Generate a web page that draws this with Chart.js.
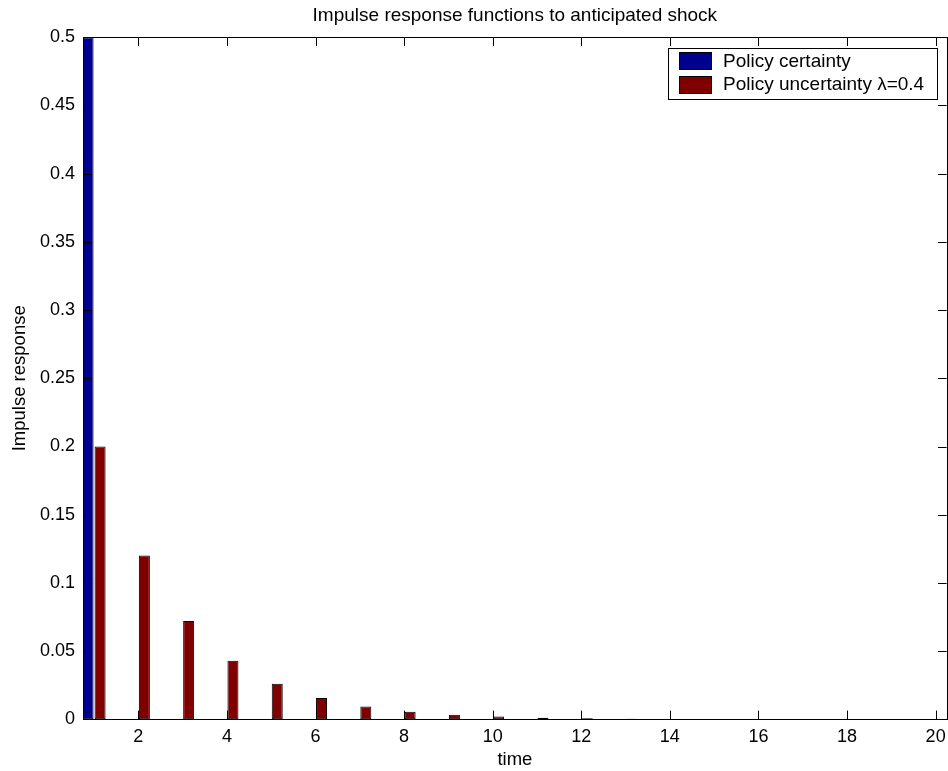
<!DOCTYPE html>
<html>
<head>
<meta charset="utf-8">
<script src="https://cdn.jsdelivr.net/npm/chart.js@4/dist/chart.umd.min.js"></script>
<style>
  html, body { margin: 0; padding: 0; background: #ffffff; }
  canvas { display: block; }
</style>
</head>
<body>
<canvas id="c" width="948" height="771"></canvas>
<script>
// ---- data ----
const times = [1, 2, 3, 4, 5, 6, 7, 8, 9, 10, 11, 12, 13, 14, 15, 16, 17, 18, 19, 20];
const policyCertainty = [0.5, 0, 0, 0, 0, 0, 0, 0, 0, 0, 0, 0, 0, 0, 0, 0, 0, 0, 0, 0];
const policyUncertainty = [0.2, 0.12, 0.072, 0.043, 0.026, 0.0156, 0.0093, 0.0056, 0.0034, 0.002,
                           0.0012, 0.0007, 0.0004, 0.0003, 0.0002, 0.0001, 0.00006, 0.00004, 0.00002, 0.00001];
const seriesLabels = ['Policy certainty', 'Policy uncertainty \u03BB=0.4'];
const seriesColors = ['#00008f', '#800000'];
const xTicks = [2, 4, 6, 8, 10, 12, 14, 16, 18, 20];
const yTicks = [0, 0.05, 0.1, 0.15, 0.2, 0.25, 0.3, 0.35, 0.4, 0.45, 0.5];
const titleText = 'Impulse response functions to anticipated shock';
const xTitle = 'time';
const yTitle = 'Impulse response';

const FONT = '"Liberation Sans", Arial, Helvetica, sans-serif';

function toPoints(vals) { return times.map((t, i) => ({ x: t, y: vals[i] })); }

// inward ticks + box, MATLAB style
const axesBox = {
  id: 'axesBox',
  afterDatasetsDraw(chart) {
    const { ctx, chartArea: a, scales } = chart;
    const xs = scales.x, ys = scales.y;
    const L = 8.7;
    ctx.save();
    ctx.strokeStyle = '#000';
    ctx.lineWidth = 1;
    ctx.beginPath();
    xTicks.forEach(v => {
      const px = Math.round(xs.getPixelForValue(v)) + 0.5;
      ctx.moveTo(px, a.bottom); ctx.lineTo(px, a.bottom - L);
      ctx.moveTo(px, a.top); ctx.lineTo(px, a.top + L);
    });
    yTicks.forEach(v => {
      const py = Math.round(ys.getPixelForValue(v)) + 0.5;
      ctx.moveTo(a.left, py); ctx.lineTo(a.left + L, py);
      ctx.moveTo(a.right, py); ctx.lineTo(a.right - L, py);
    });
    ctx.stroke();
    ctx.strokeRect(Math.round(a.left) + 0.5, Math.round(a.top) + 0.5,
                   Math.round(a.right - a.left), Math.round(a.bottom - a.top));
    ctx.restore();
  }
};

// legend box inside plot (top-right)
const innerLegend = {
  id: 'innerLegend',
  afterDraw(chart) {
    const { ctx, chartArea: a } = chart;
    const w = 269.4, h = 51.3;
    const bx = a.right - 9 - w, by = a.top + 10.4;
    ctx.save();
    ctx.fillStyle = '#fff';
    ctx.fillRect(bx, by, w, h);
    ctx.strokeStyle = '#000';
    ctx.lineWidth = 1;
    ctx.strokeRect(Math.round(bx) + 0.5, Math.round(by) + 0.5, Math.round(w), Math.round(h));
    ctx.font = '19px ' + FONT;
    ctx.textBaseline = 'middle';
    ctx.textAlign = 'left';
    chart.data.datasets.forEach((ds, i) => {
      const sy = by + 4.6 + i * 23.7;
      ctx.fillStyle = ds.backgroundColor;
      ctx.fillRect(bx + 10.7, sy, 32.7, 17.5);
      ctx.strokeStyle = '#000';
      ctx.strokeRect(Math.round(bx + 10.7) + 0.5, Math.round(sy) + 0.5, 32, 17);
      ctx.fillStyle = '#000';
      ctx.fillText(ds.label, bx + 54.7, sy + 9);
    });
    ctx.restore();
  }
};

new Chart(document.getElementById('c'), {
  type: 'bar',
  data: {
    datasets: [
      { label: seriesLabels[0], data: toPoints(policyCertainty), backgroundColor: seriesColors[0],
        borderColor: '#000', borderWidth: 1, borderSkipped: false },
      { label: seriesLabels[1], data: toPoints(policyUncertainty), backgroundColor: seriesColors[1],
        borderColor: '#000', borderWidth: 1, borderSkipped: false }
    ]
  },
  options: {
    responsive: false,
    animation: false,
    devicePixelRatio: 1,
    layout: { padding: { left: 0, right: 1.3, top: 0, bottom: 0 } },
    datasets: { bar: { categoryPercentage: 0.5418, barPercentage: 0.9167 } },
    plugins: {
      legend: { display: false },
      tooltip: { enabled: false },
      title: {
        display: true, text: titleText, fullSize: false, color: '#000',
        font: { family: FONT, size: 19, weight: 'normal' },
        padding: { top: 4.8, bottom: 9.7 }
      }
    },
    scales: {
      x: {
        type: 'linear', min: 0.75, max: 20.25, offset: false,
        afterBuildTicks: s => { s.ticks = xTicks.map(v => ({ value: v })); },
        afterFit: s => { s.height = 51.7; s.paddingLeft = 0; s.paddingRight = 0; },
        grid: { display: false, drawTicks: false },
        border: { display: false },
        ticks: { padding: 7, color: '#000', font: { family: FONT, size: 18 }, maxRotation: 0,
                 autoSkip: false, callback: v => String(v) },
        title: { display: true, text: xTitle, color: '#000', font: { family: FONT, size: 18.5 },
                 padding: { top: 0, bottom: 0 } }
      },
      y: {
        type: 'linear', min: 0, max: 0.5,
        afterBuildTicks: s => { s.ticks = yTicks.map(v => ({ value: v })); },
        afterFit: s => { s.width = 83; },
        grid: { display: false, drawTicks: false },
        border: { display: false },
        ticks: { padding: 8, color: '#000', font: { family: FONT, size: 18 }, autoSkip: false,
                 callback: v => String(v) },
        title: { display: true, text: yTitle, color: '#000', font: { family: FONT, size: 18.5 },
                 padding: { top: 8.7, bottom: 0 } }
      }
    }
  },
  plugins: [axesBox, innerLegend]
});
</script>
</body>
</html>
